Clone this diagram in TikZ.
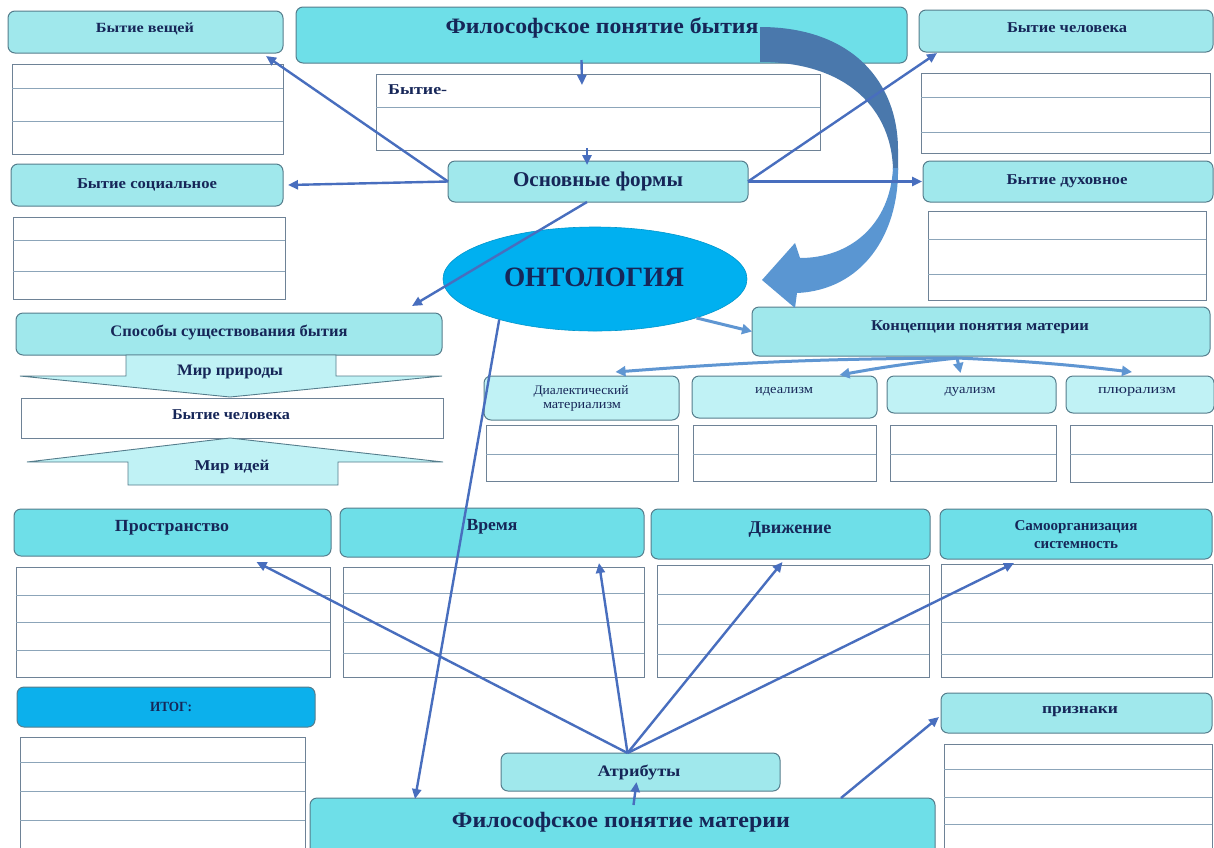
\documentclass[tikz,border=0pt]{standalone}
\usepackage{fontspec}
\setmainfont{Liberation Serif}
\usepackage{graphicx}
\usetikzlibrary{shapes.geometric,arrows.meta,calc}
\definecolor{navy}{RGB}{22,38,88}
\definecolor{lcyan}{RGB}{160,232,236}
\definecolor{dcyan}{RGB}{110,223,232}
\definecolor{vlcyan}{RGB}{192,242,245}
\definecolor{itogc}{RGB}{12,176,236}
\definecolor{ontc}{RGB}{0,176,240}
\definecolor{bordc}{RGB}{85,125,140}
\definecolor{tbordc}{RGB}{110,130,150}
\definecolor{rulec}{RGB}{140,165,185}
\definecolor{arrc}{RGB}{72,110,190}
\definecolor{arrl}{RGB}{95,150,210}
\definecolor{bandd}{RGB}{74,120,172}
\definecolor{bandl}{RGB}{90,150,210}
\newcommand\fw[3]{\resizebox{#2pt}{\height}{\fontsize{#1}{#1}\selectfont #3}}
\newcommand\bx[6]{\node[#1,anchor=north west,minimum width={#4-#2},minimum height={#5-#3}] (#6) at (#2,#3) {};}
\begin{document}
\begin{tikzpicture}[x=1pt,y=-1pt,
 box/.style={draw=bordc,line width=1pt,rounded corners=7pt,inner sep=0pt,outer sep=0pt},
 lt/.style={fill=lcyan}, dk/.style={fill=dcyan}, vl/.style={fill=vlcyan},
 tbl/.style={draw=tbordc,line width=1pt,fill=white,inner sep=0pt,outer sep=0pt},
 rl/.style={draw=rulec,line width=1pt},
 txt/.style={text=navy,inner sep=0pt,font=\bfseries},
 txr/.style={text=navy,inner sep=0pt},
 arr/.style={draw=arrc,line width=2.4pt,-{Triangle[length=10pt,width=9pt]}},
 arrL/.style={draw=arrl,line width=3pt,-{Triangle[length=10pt,width=10pt]}},
 blk/.style={draw=bordc,line width=0.9pt,fill=vlcyan}]
\useasboundingbox (0,0) rectangle (1214,847);
\fill[white] (0,0) rectangle (1214,847);

% ---- top row
\bx{box,lt}{8}{11}{283}{53}{bv}
\bx{tbl}{12}{64}{283}{154}{bvt}
\draw[rl] (12,88) -- (283,88); \draw[rl] (12,121) -- (283,121);
\bx{box,dk}{296}{7}{907}{63}{phb}
\bx{tbl}{376}{74}{820}{150}{bt}
\draw[rl] (376,107) -- (820,107);
\bx{box,lt}{919}{10}{1213}{52}{bch}
\bx{tbl}{921}{73}{1210}{153}{bcht}
\draw[rl] (921,97) -- (1210,97); \draw[rl] (921,132) -- (1210,132);

% ---- second row
\bx{box,lt}{11}{164}{283}{206}{bs}
\bx{tbl}{13}{217}{285}{299}{bst}
\draw[rl] (13,240) -- (285,240); \draw[rl] (13,271) -- (285,271);
\bx{box,lt}{448}{161}{748}{202}{osn}
\bx{box,lt}{923}{161}{1213}{202}{bd}
\bx{tbl}{928}{211}{1206}{300}{bdt}
\draw[rl] (928,239) -- (1206,239); \draw[rl] (928,274) -- (1206,274);

% ---- ways of being
\bx{box,lt}{16}{313}{442}{355}{sp}
\draw[blk] (126,355) -- (336,355) -- (336,376) -- (442,376) -- (230,397) -- (20,376) -- (126,376) -- cycle;
\bx{tbl}{21}{398}{443}{438}{bchm}
\draw[blk] (230,438) -- (443,462) -- (338,462) -- (338,485) -- (128,485) -- (128,462) -- (27,462) -- cycle;

% ---- concepts
\bx{box,lt}{752}{307}{1210}{356}{konc}
\bx{box,vl}{484}{376}{679}{420}{dm}
\bx{box,vl}{692}{376}{877}{418}{id}
\bx{box,vl}{887}{376}{1056}{413}{du}
\bx{box,vl}{1066}{376}{1214}{413}{pl}
\bx{tbl}{486}{425}{678}{481}{dmt} \draw[rl] (486,454) -- (678,454);
\bx{tbl}{693}{425}{876}{481}{idt} \draw[rl] (693,454) -- (876,454);
\bx{tbl}{890}{425}{1056}{481}{dut} \draw[rl] (890,454) -- (1056,454);
\bx{tbl}{1070}{425}{1212}{482}{plt} \draw[rl] (1070,454) -- (1212,454);

% ---- attributes row
\bx{box,dk}{14}{509}{331}{556}{pr}
\bx{box,dk}{340}{508}{644}{557}{vr}
\bx{box,dk}{651}{509}{930}{559}{dv}
\bx{box,dk}{940}{509}{1212}{559}{sam}
\bx{tbl}{16}{567}{330}{677}{prt}
\draw[rl] (16,595) -- (330,595); \draw[rl] (16,622) -- (330,622); \draw[rl] (16,650) -- (330,650);
\bx{tbl}{343}{567}{644}{677}{vrt}
\draw[rl] (343,593) -- (644,593); \draw[rl] (343,622) -- (644,622); \draw[rl] (343,653) -- (644,653);
\bx{tbl}{657}{565}{929}{677}{dvt}
\draw[rl] (657,594) -- (929,594); \draw[rl] (657,624) -- (929,624); \draw[rl] (657,654) -- (929,654);
\bx{tbl}{941}{564}{1212}{677}{samt}
\draw[rl] (941,593) -- (1212,593); \draw[rl] (941,622) -- (1212,622); \draw[rl] (941,654) -- (1212,654);

% ---- bottom
\bx{box,fill=itogc}{17}{687}{315}{727}{itog}
\bx{tbl}{20}{737}{305}{852}{itogt}
\draw[rl] (20,762) -- (305,762); \draw[rl] (20,791) -- (305,791); \draw[rl] (20,820) -- (305,820);
\bx{box,lt}{501}{753}{780}{791}{atr}
\bx{box,dk}{310}{798}{935}{860}{mat}
\bx{box,lt}{941}{693}{1212}{733}{pri}
\bx{tbl}{944}{744}{1212}{852}{prit}
\draw[rl] (944,769) -- (1212,769); \draw[rl] (944,797) -- (1212,797); \draw[rl] (944,824) -- (1212,824);

% ---- ontology ellipse
\node[ellipse,fill=ontc,draw=ontc!85!black,line width=0.6pt,minimum width=304pt,minimum height=104pt,inner sep=0pt] (ont) at (595,279) {};

% ---- big curved arrow
\fill[bandd] (760,27) .. controls (852,27) and (898,82) .. (898,150) -- (898,170) -- (893,170) .. controls (892,112) and (850,62) .. (760,62) -- cycle;
\fill[bandl] (893,168) .. controls (890,225) and (850,258) .. (800,258) -- (795,243) -- (762,280) -- (795,308) -- (797,293) .. controls (862,290) and (899,235) .. (898,168) -- cycle;

% ---- connectors
\draw[arr] ([xshift=-20pt,yshift=3pt]phb.south) -- ([xshift=-16pt,yshift=-11pt]bt.north);
\draw[arr] ([xshift=-11pt,yshift=2pt]bt.south) -- ([xshift=-11pt,yshift=-4pt]osn.north);
\draw[arr] (osn.west) -- ([xshift=-17pt,yshift=-3pt]bv.south east);
\draw[arr] (osn.west) -- ([xshift=5pt]bs.east);
\draw[arr] (osn.east) -- ([xshift=18pt,yshift=-1pt]bch.south west);
\draw[arr] (osn.east) -- ([xshift=-1pt]bd.west);
\draw[arr] ([xshift=-11pt]osn.south) -- ([xshift=-30pt,yshift=7pt]sp.north east);
\draw[arrL] (ont.-21) -- (konc.west);
\coordinate (kf) at ([xshift=-24pt,yshift=-2pt]konc.south);
\draw[arrL] (kf) to[bend right=2] ([xshift=34pt,yshift=4pt]dm.north);
\draw[arrL] (kf) to[bend right=2] ([xshift=55pt,yshift=1pt]id.north);
\draw[arrL] (kf) -- ([xshift=-11pt,yshift=3pt]du.north);
\draw[arrL] (kf) to[bend left=2] ([xshift=-8pt,yshift=4pt]pl.north);
\draw[arr] (ont.203) -- ([xshift=105pt,yshift=-1pt]mat.north west);
\draw[arr] ([xshift=11pt,yshift=-7pt]mat.north) -- ([xshift=-4pt,yshift=9pt]atr.south);
\coordinate (af) at ([xshift=-13pt]atr.north);
\draw[arr] (af) -- ([xshift=84pt,yshift=-6pt]pr.south);
\draw[arr] (af) -- ([xshift=107pt,yshift=-6pt]vr.south);
\draw[arr] (af) -- ([xshift=-8pt,yshift=-3pt]dv.south);
\draw[arr] (af) -- ([xshift=-62pt,yshift=-4pt]sam.south);
\draw[arr] ([xshift=-94pt]mat.north east) -- ([xshift=-2pt,yshift=-4pt]pri.west);

% ---- texts
\node[txt] (bvT) at (145,29) {\fw{14}{98}{Бытие вещей}};
\node[txt] (phbT) at (602,28) {\fw{22}{313}{Философское понятие бытия}};
\node[txt,anchor=west] (btT) at (388,90) {\fw{15}{59}{Бытие-}};
\node[txt] (bchT) at (1067,28) {\fw{15}{120}{Бытие человека}};
\node[txt] (bsT) at (147,185) {\fw{15}{140}{Бытие социальное}};
\node[txt] (osnT) at (598,181) {\fw{21}{170}{Основные формы}};
\node[txt] (bdT) at (1067,181) {\fw{15}{121}{Бытие духовное}};
\node[txt] (ontT) at (594,277) {\fw{28}{180}{ОНТОЛОГИЯ}};
\node[txt] (spT) at (229,332) {\fw{16}{237}{Способы существования бытия}};
\node[txt] (mpT) at (230,372) {\fw{16}{106}{Мир природы}};
\node[txt] (bchmT) at (231,415) {\fw{15}{118}{Бытие человека}};
\node[txt] (miT) at (232,467) {\fw{15}{75}{Мир идей}};
\node[txt] (koncT) at (980,327) {\fw{15}{218}{Концепции понятия материи}};
\node[txr] (dmT1) at (581,391) {\fw{13}{95}{Диалектический}};
\node[txr] (dmT2) at (582,407) {\fw{13}{78}{материализм}};
\node[txr] (idT) at (784,392) {\fw{13}{58}{идеализм}};
\node[txr] (duT) at (970,392) {\fw{13}{51}{дуализм}};
\node[txr] (plT) at (1137,392) {\fw{13}{78}{плюрализм}};
\node[txt] (prT) at (172,528) {\fw{17}{114}{Пространство}};
\node[txt] (vrT) at (492,527) {\fw{17}{51}{Время}};
\node[txt] (dvT) at (790,530) {\fw{18}{83}{Движение}};
\node[txt] (samT1) at (1076,527) {\fw{15}{123}{Самоорганизация}};
\node[txt] (samT2) at (1076,545) {\fw{15}{84}{системность}};
\node[txt] (itogT) at (171,707) {\fw{14}{42}{ИТОГ:}};
\node[txt] (atrT) at (639,772) {\fw{16}{83}{Атрибуты}};
\node[txt] (matT) at (621,822) {\fw{22}{338}{Философское понятие материи}};
\node[txt] (priT) at (1080,712) {\fw{15}{76}{признаки}};
\end{tikzpicture}
\end{document}
